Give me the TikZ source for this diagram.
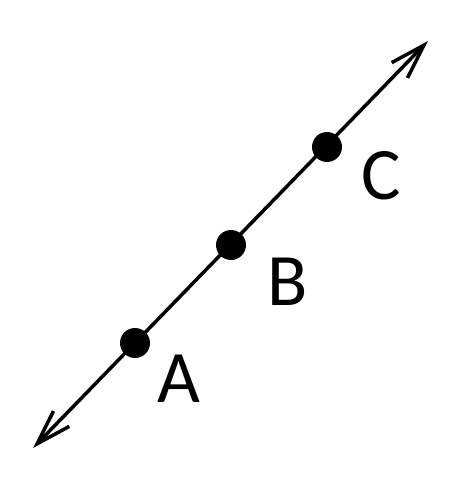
\documentclass[tikz,border=0pt]{standalone}
\usepackage{fontspec}
\setmainfont{Carlito}
\usetikzlibrary{arrows.meta}

\begin{document}
\begin{tikzpicture}[x=1pt,y=-1pt]
\tikzset{pt/.style={circle, fill=black, inner sep=0pt, minimum size=30pt},
  lbl/.style={font=\fontsize{74}{74}\selectfont, inner sep=0pt}}

\useasboundingbox (0,0) rectangle (464,492);

\coordinate (lo) at (33,448);
\coordinate (hi) at (428,41);

\draw [line width=3.5pt, {Straight Barb[length=35pt,width=22pt]}-{Straight Barb[length=35pt,width=22pt]}] (lo) -- (hi);

\node[pt] (A) at (135,343) {};
\node[pt] (B) at (231,245) {};
\node[pt] (C) at (327,147) {};

\node[lbl] (lA) at (179,379) {A};
\node[lbl] (lB) at (288,282) {B};
\node[lbl] (lC) at (381,176) {C};

\end{tikzpicture}
\end{document}
